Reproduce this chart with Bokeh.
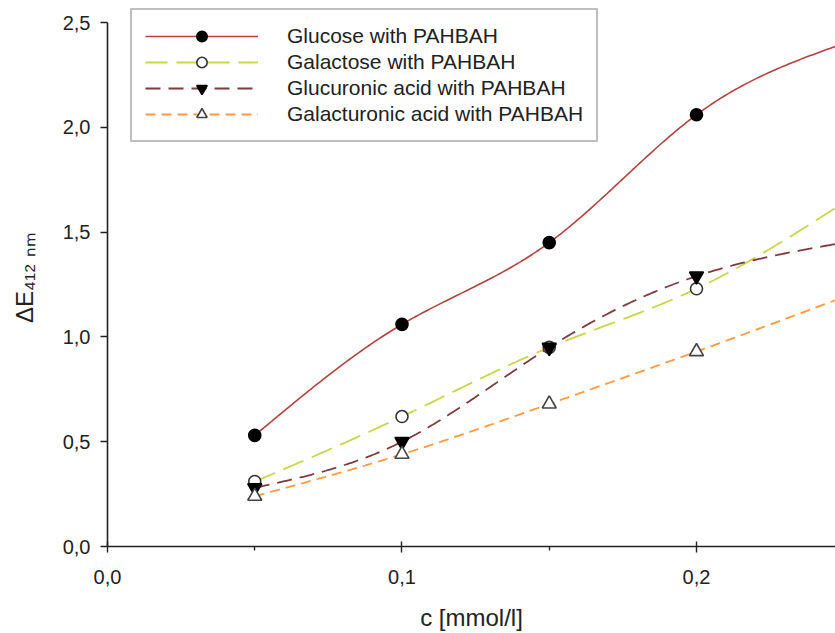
import numpy as np
from bokeh.plotting import figure
from bokeh.models import Range1d, FixedTicker, Legend, LegendItem
from bokeh.embed import file_html
from bokeh.resources import INLINE

# ---- data ----
conc = [0.05, 0.10, 0.15, 0.20, 0.25]
glucose = [0.53, 1.06, 1.45, 2.06, 2.40]
galactose = [0.31, 0.62, 0.95, 1.23, 1.64]
glucuronic = [0.28, 0.50, 0.95, 1.29, 1.45]
galacturonic = [0.24, 0.44, 0.68, 0.93, 1.19]

series_names = [
    "Glucose with PAHBAH",
    "Galactose with PAHBAH",
    "Glucuronic acid with PAHBAH",
    "Galacturonic acid with PAHBAH",
]

x_ticks = [0.0, 0.1, 0.2]
x_tick_labels = ["0,0", "0,1", "0,2"]
x_minor_ticks = [0.05, 0.15, 0.25]
y_ticks = [0.0, 0.5, 1.0, 1.5, 2.0, 2.5]
y_tick_labels = ["0,0", "0,5", "1,0", "1,5", "2,0", "2,5"]

x_title = "c [mmol/l]"
y_title = "ΔE₄₁₂ ₙₘ"


def smooth(xs, ys, n=300):
    """Natural cubic spline through the data points (line rendering only)."""
    x = np.asarray(xs, float)
    y = np.asarray(ys, float)
    k = len(x)
    h = np.diff(x)
    A = np.zeros((k, k))
    b = np.zeros(k)
    A[0, 0] = 1.0
    A[-1, -1] = 1.0
    for i in range(1, k - 1):
        A[i, i - 1] = h[i - 1]
        A[i, i] = 2 * (h[i - 1] + h[i])
        A[i, i + 1] = h[i]
        b[i] = 6 * ((y[i + 1] - y[i]) / h[i] - (y[i] - y[i - 1]) / h[i - 1])
    M = np.linalg.solve(A, b)
    xx = np.linspace(x[0], x[-1], n)
    idx = np.clip(np.searchsorted(x, xx) - 1, 0, k - 2)
    x0, x1 = x[idx], x[idx + 1]
    y0, y1 = y[idx], y[idx + 1]
    m0, m1 = M[idx], M[idx + 1]
    hh = x1 - x0
    t0 = x1 - xx
    t1 = xx - x0
    yy = (m0 * t0 ** 3 + m1 * t1 ** 3) / (6 * hh) + (y0 / hh - m0 * hh / 6) * t0 + (y1 / hh - m1 * hh / 6) * t1
    return xx, yy


FONT = "Liberation Sans"
TXT = "#222222"

p = figure(
    width=835,
    height=633,
    output_backend="svg",
    toolbar_location=None,
    x_range=Range1d(0, 0.2472),
    y_range=Range1d(0, 2.567),
    min_border_left=107,
    min_border_right=0,
    min_border_top=8,
    min_border_bottom=87,
)
p.outline_line_color = None
p.xgrid.visible = False
p.ygrid.visible = False
p.background_fill_color = "white"
p.border_fill_color = "white"

# x axis
xa = p.xaxis[0]
xa.ticker = FixedTicker(ticks=x_ticks, minor_ticks=x_minor_ticks)
xa.major_label_overrides = {t: l for t, l in zip(x_ticks, x_tick_labels)}
xa.axis_label = x_title
xa.axis_label_text_font = FONT
xa.axis_label_text_font_style = "normal"
xa.axis_label_text_font_size = "24px"
xa.axis_label_text_color = TXT
xa.axis_label_text_line_height = 0.7
xa.axis_label_standoff = 17
xa.major_label_text_font = FONT
xa.major_label_text_font_size = "20px"
xa.major_label_text_color = TXT
xa.major_label_standoff = 17
xa.major_tick_in = 5
xa.major_tick_out = 6
xa.minor_tick_in = 0
xa.minor_tick_out = 4

# y axis
ya = p.yaxis[0]
ya.bounds = (y_ticks[0], y_ticks[-1])
ya.ticker = FixedTicker(ticks=y_ticks, minor_ticks=[])
ya.major_label_overrides = {t: l for t, l in zip(y_ticks, y_tick_labels)}
ya.major_label_text_font = FONT
ya.major_label_text_font_size = "20px"
ya.major_label_text_color = TXT
ya.major_label_standoff = 10
ya.major_tick_in = 0
ya.major_tick_out = 7
ya.minor_tick_line_color = None
ya.axis_label = y_title
ya.axis_label_text_font = FONT
ya.axis_label_text_font_style = "normal"
ya.axis_label_text_font_size = "24px"
ya.axis_label_text_color = TXT
ya.axis_label_standoff = 22

for ax in (xa, ya):
    ax.axis_line_color = "#222222"
    ax.axis_line_width = 1.6
    ax.major_tick_line_color = "#222222"
    ax.major_tick_line_width = 1.4
    ax.minor_tick_line_color = "#222222" if ax is xa else None
    ax.minor_tick_line_width = 1.4

styles = [
    dict(color="#b3423f", dash="solid", width=1.6, marker="circle", size=12,
         fill="black", mline="black"),
    dict(color="#c8d648", dash="22 9", width=1.8, marker="circle", size=12,
         fill="white", mline="#333333"),
    dict(color="#7d3b3f", dash="15 8", width=1.8, marker="inverted_triangle", size=14,
         fill="black", mline="black"),
    dict(color="#ff9a40", dash="10 6", width=1.8, marker="triangle", size=14,
         fill="white", mline="#444444"),
]
all_series = [glucose, galactose, glucuronic, galacturonic]

items = []
for name, ys, st in zip(series_names, all_series, styles):
    sx, sy = smooth(conc, ys)
    lr = p.line(sx, sy, line_color=st["color"], line_width=st["width"], line_dash=st["dash"])
    mr = p.scatter(conc, ys, marker=st["marker"], size=st["size"], fill_color=st["fill"],
                   line_color=st["mline"], line_width=1.6)
    items.append(LegendItem(label=name, renderers=[lr, mr]))

legend = Legend(
    items=items,
    location=(23, 404),
    margin=0,
    padding=13,
    spacing=0,
    glyph_width=113,
    glyph_height=26,
    label_height=26,
    label_standoff=29,
    label_text_font=FONT,
    label_text_font_size="21px",
    label_text_color=TXT,
    border_line_color="#808080",
    border_line_width=2.5,
    background_fill_color="white",
    background_fill_alpha=1.0,
)
p.add_layout(legend)

open("out.html", "w").write(file_html(p, INLINE))
